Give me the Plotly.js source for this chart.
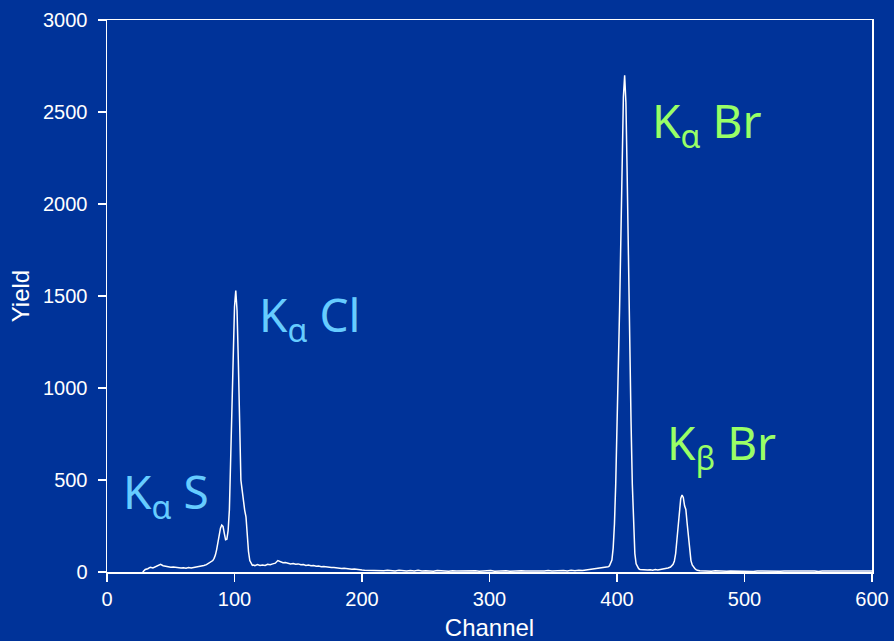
<!DOCTYPE html>
<html>
<head>
<meta charset="utf-8">
<script src="https://cdn.plot.ly/plotly-3.0.1.min.js"></script>
<style>html,body{margin:0;padding:0;background:#003399;}#chart{width:894px;height:641px;}</style>
</head>
<body>
<div id="chart"></div>
<script>
// Spectrum: channel vs yield
const channels = [
  28,30,32,34,36,38,40,42,44,46,48,50,52,54,56,58,60,62,64,66,68,70,72,74,76,78,
  79,80,81,82,83,84,85,86,87,88,89,90,91,92,93,94,95,96,97,98,99,100,101,102,103,104,105,106,107,108,109,110,111,112,113,114,115,
  116,118,120,122,124,126,128,130,132,134,136,138,140,142,144,146,148,150,152,154,156,158,160,162,164,166,168,170,172,174,176,178,180,182,184,186,188,190,192,194,196,198,200,
  202,205,208,211,214,217,220,223,226,229,232,235,238,241,244,247,250,253,256,259,262,265,268,271,274,277,280,283,286,289,292,295,298,301,304,307,310,313,316,319,322,325,328,331,334,337,340,343,346,349,352,355,358,361,364,367,370,373,376,379,382,385,388,391,
  392,393,394,395,396,397,398,399,400,401,402,403,404,405,406,407,408,409,410,411,412,413,414,415,416,417,
  418,420,422,424,426,428,430,432,434,436,438,440,442,
  443,444,445,446,447,448,449,450,451,452,453,454,455,456,457,458,459,460,461,462,463,
  465,468,471,474,477,480,483,486,489,492,495,498,501,504,507,510,513,516,519,522,525,528,531,534,537,540,543,546,549,552,555,558,561,564,567,570,573,576,579,582,585,588,591,594,597,600
];
const yields = [
  0,14,18,26,22,30,38,42,34,30,28,26,27,24,25,22,23,21,24,22,25,27,28,31,35,40,
  44,46,50,56,62,74,92,122,160,205,238,255,248,210,175,178,225,340,600,960,1250,1440,1530,1420,1150,720,500,445,385,335,300,200,110,62,45,36,38,
  34,40,35,38,36,42,40,44,48,62,56,50,52,47,44,46,42,44,40,41,36,38,34,35,31,33,29,30,27,28,24,25,22,23,19,20,17,18,15,16,13,12,11,
  10,9,11,8,9,7,10,8,6,9,7,5,8,6,9,5,7,6,4,8,5,6,4,7,5,6,3,6,5,7,4,6,5,8,4,6,5,7,4,6,5,7,5,6,4,7,6,5,8,5,7,6,8,6,9,7,10,8,11,12,14,16,19,24,
  26,28,33,45,65,130,260,480,760,1080,1420,1800,2250,2580,2700,2550,2150,1620,1200,820,480,240,100,45,26,18,
  14,12,13,11,12,10,13,11,14,16,19,22,27,
  32,42,60,100,175,250,350,400,418,405,360,340,265,190,115,62,38,26,19,13,9,
  7,5,6,4,7,5,6,4,6,5,7,4,6,5,3,6,5,7,4,6,5,4,6,5,7,4,5,6,4,6,5,3,6,5,7,4,5,6,4,5,6,4,5,6,4,5
];
const xTicks = [0,100,200,300,400,500,600];
const yTicks = [0,500,1000,1500,2000,2500,3000];
const peakLabels = ['K<sub>α</sub> Br','K<sub>β</sub> Br','K<sub>α</sub> Cl','K<sub>α</sub> S'];
const labelChannel = [425.5, 438, 118, 11];
const labelYield = [2635, 885, 1580, 618];
const labelColors = ['#99FF66','#99FF66','#66CCFF','#66CCFF'];

const trace = {
  x: channels, y: yields, type: 'scatter', mode: 'lines',
  line: {color: '#FFFFFF', width: 1.5}, hoverinfo: 'x+y'
};

const axisFont = {family: 'Liberation Sans, Arial, sans-serif', size: 20, color: '#FFFFFF'};
const layout = {
  width: 894, height: 641,
  paper_bgcolor: '#003399', plot_bgcolor: '#003399',
  margin: {l: 107, r: 22, t: 20, b: 69},
  showlegend: false,
  xaxis: {
    range: [0, 600], tickvals: xTicks, ticks: 'outside', ticklen: 8, tickwidth: 1.5, tickcolor: '#FFFFFF',
    showline: true, linecolor: '#FFFFFF', linewidth: 1.5, mirror: true,
    showgrid: false, zeroline: false, tickfont: axisFont,
    title: {text: 'Channel', font: {family: 'Liberation Sans, Arial, sans-serif', size: 24, color: '#FFFFFF'}, standoff: 10}
  },
  yaxis: {
    range: [0, 3000], tickvals: yTicks, ticks: 'outside', ticklen: 8, tickwidth: 1.5, tickcolor: '#FFFFFF',
    showline: true, linecolor: '#FFFFFF', linewidth: 1.5, mirror: true,
    showgrid: false, zeroline: false, tickfont: axisFont, ticklabelstandoff: 6,
    title: {text: 'Yield', font: {family: 'Liberation Sans, Arial, sans-serif', size: 24, color: '#FFFFFF'}, standoff: 6}
  },
  annotations: peakLabels.map((t, i) => ({
    text: t, x: labelChannel[i], y: labelYield[i], xref: 'x', yref: 'y',
    xanchor: 'left', yanchor: 'top', showarrow: false,
    font: {family: 'Comic Sans MS, Noto Sans, sans-serif', size: 46, color: labelColors[i]}
  }))
};
Plotly.newPlot('chart', [trace], layout, {displayModeBar: false, staticPlot: true});
</script>
</body>
</html>
